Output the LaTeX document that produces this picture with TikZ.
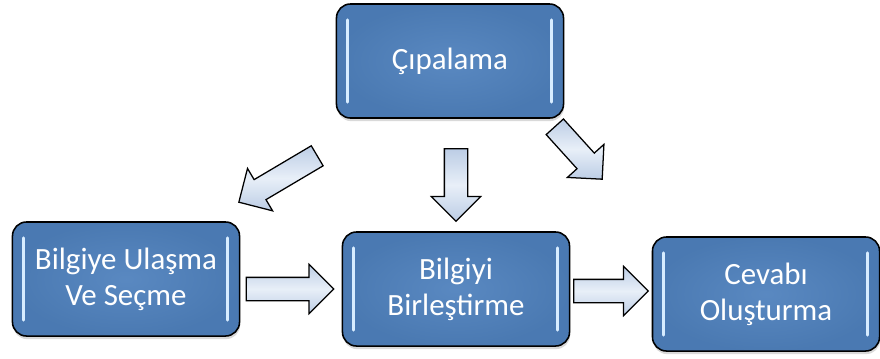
\documentclass[tikz,border=0pt]{standalone}
\usepackage{fontspec}
\setmainfont{Carlito}
\usetikzlibrary{calc,shapes.arrows,shadows}
\definecolor{boxblue}{RGB}{79,129,189}
\definecolor{arrowlight}{RGB}{232,239,248}
\definecolor{arrowdark}{RGB}{188,205,229}
\definecolor{glint}{RGB}{215,236,255}
\def\blockarrow#1#2{\path let \p1=#1, \p2=#2, \n1={atan2(\y2-\y1,\x2-\x1)}, \n2={veclen(\x2-\x1,\y2-\y1)} in node[arrowbox, rotate=\n1, minimum height=\n2, anchor=tail] at (\p1) {};}
\tikzset{
	stepbox/.style={draw=black, line width=1.1pt, rounded corners=0.35cm, inner color=boxblue!94!white, outer color=boxblue!94!black, text=white, align=center, minimum width=5.675cm, minimum height=2.85cm, font=\fontsize{22}{25.5}\selectfont, drop shadow={shadow xshift=0.4pt, shadow yshift=-2.2pt, opacity=0.3},
		path picture={
			\draw[glint, line width=2.2pt, line cap=round] ($(path picture bounding box.north west)+(11,16)$) -- ($(path picture bounding box.south west)+(11,-16)$);
			\draw[glint, line width=2.2pt, line cap=round] ($(path picture bounding box.north east)+(-12,16)$) -- ($(path picture bounding box.south east)+(-12,-16)$);
		}},
	arrowbox/.style={single arrow, draw=black, line width=0.9pt, inner xsep=0pt, inner ysep=0.275cm, outer sep=0pt, single arrow head extend=0.325cm, top color=arrowdark, bottom color=arrowdark, middle color=arrowlight}
}

\begin{document}
\begin{tikzpicture}[x=0.025cm, y=-0.025cm]
			%%%%% START %%%%%
			\useasboundingbox (0, 0) rectangle (880, 358);
			
			\node[stepbox] (cipa) at (450, 61) {Çıpalama};
			\node[stepbox] (ulasma) at (126, 279) {Bilgiye Ulaşma\\Ve Seçme};
			\node[stepbox] (birles) at (456, 289) {Bilgiyi\\Birleştirme};
			\node[stepbox] (cevap) at (766, 294) {Cevabı\\Oluşturma};
			
			\blockarrow{($(cipa.south west)+(-18.5, 37)$)}{($(ulasma.north east)+(-1.5, -19)$)}
			\blockarrow{($(birles.north |- cipa.south)+(0, 30)$)}{($(birles.north)+(0, -10)$)}
			\blockarrow{($(cipa.south east)+(-9.5, 8)$)}{($(cevap.north west)+(-49.5, -57)$)}
			
			\blockarrow{($(ulasma.east |- birles.west)+(6, 0)$)}{($(birles.west)+(-8, 0)$)}
			\blockarrow{($(birles.east)+(3.5, 2)$)}{($(cevap.west)+(-3.5, -3)$)}
			
			%%%%% END %%%%%
\end{tikzpicture}
\end{document}
